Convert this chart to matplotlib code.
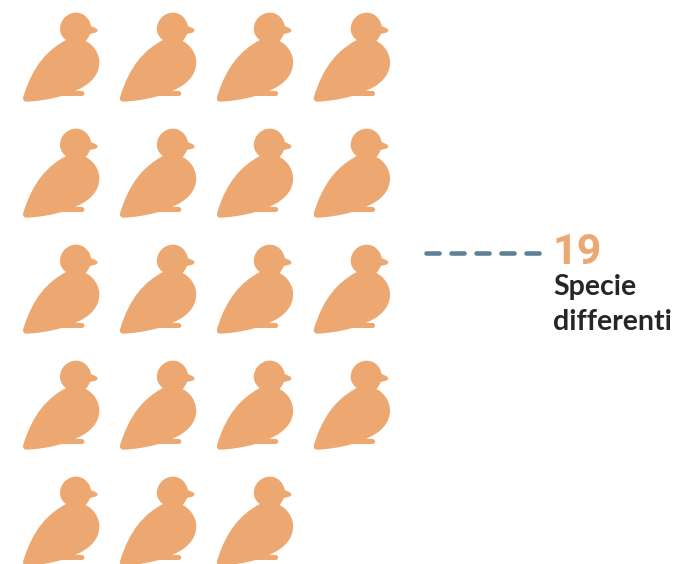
#!/usr/bin/env python3
"""Pittogramma: 19 specie differenti."""

import matplotlib

matplotlib.use("Agg")
import matplotlib.pyplot as plt
from matplotlib.patches import PathPatch
from matplotlib.path import Path
from matplotlib.transforms import Affine2D

species_count = 19
per_row = 4
label_lines = ["Specie", "differenti"]

BIRD_COLOR = "#eca870"
DASH_COLOR = "#5f8197"
TEXT_COLOR = "#26262a"


def bird_path() -> Path:
    # outline traced on a 3x crop, so divide by 3 afterwards
    M, L, C, Z = Path.MOVETO, Path.LINETO, Path.CURVE4, Path.CLOSEPOLY
    steps = [
        (M, [(40, 290)]),
        (C, [(68, 198), (112, 150), (168, 120)]),
        (C, [(157, 112), (150, 101), (150, 87)]),
        (C, [(150, 60), (172, 38), (198, 38)]),
        (C, [(220, 38), (238, 54), (243, 78)]),
        (L, [(256, 84)]),
        (C, [(265, 88), (265, 96), (256, 98)]),
        (L, [(240, 102)]),
        (C, [(237, 110), (233, 117), (227, 123)]),
        (C, [(252, 135), (268, 162), (268, 187)]),
        (C, [(268, 225), (240, 255), (196, 272)]),
        (L, [(215, 273)]),
        (C, [(226, 273), (226, 288), (215, 288)]),
        (L, [(155, 288)]),
        (C, [(120, 298), (80, 304), (50, 305)]),
        (C, [(41, 305), (37, 298), (40, 290)]),
    ]
    verts, codes = [], []
    for code, pts in steps:
        for x, y in pts:
            verts.append((x / 3 + 10, y / 3))
            codes.append(code)
    verts.append(verts[0])
    codes.append(Z)
    return Path(verts, codes)


def main() -> None:
    plt.rcParams["lines.scale_dashes"] = False
    fig = plt.figure(figsize=(6.74, 5.64), dpi=100)
    ax = fig.add_axes([0, 0, 1, 1])
    ax.set_xlim(0, 674)
    ax.set_ylim(564, 0)
    ax.axis("off")

    shape = bird_path()
    for i in range(species_count):
        row, col = divmod(i, per_row)
        move = Affine2D().translate(col * 96.9, row * 116)
        ax.add_patch(
            PathPatch(shape, facecolor=BIRD_COLOR, edgecolor="none", transform=move + ax.transData)
        )

    ax.plot(
        [426, 540], [253, 253],
        color=DASH_COLOR, lw=3.3, dash_capstyle="round", dashes=(9.4, 8.6),
    )
    ax.text(
        553, 264, str(species_count),
        color=BIRD_COLOR, fontsize=31, fontweight="bold", fontstretch="condensed", family="Roboto",
    )
    for line, y in zip(label_lines, [295, 330]):
        ax.text(553, y, line, color=TEXT_COLOR, fontsize=20.5, fontweight="bold", family="Lato")

    fig.savefig("out.png", dpi=100)
    plt.close(fig)


if __name__ == "__main__":
    main()
